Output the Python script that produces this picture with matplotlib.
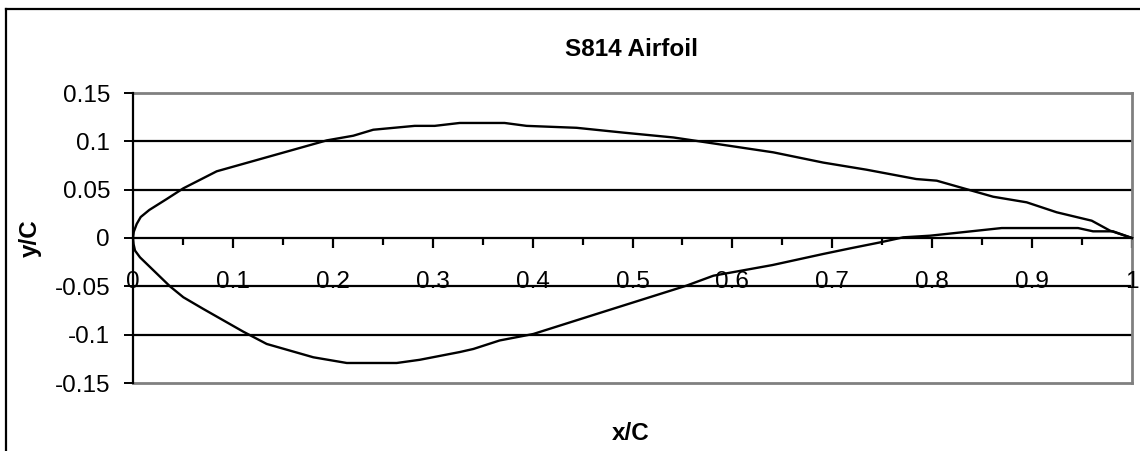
import matplotlib
matplotlib.use("Agg")
import matplotlib.pyplot as plt
from matplotlib.lines import Line2D

plt.rcParams['font.family'] = ['Liberation Sans', 'DejaVu Sans']

# S814 section coordinates, leading edge to trailing edge
upper_x = [0.0, 0.0008, 0.0037, 0.0077, 0.0163, 0.0337, 0.0504, 0.0838, 0.194, 0.2205,
           0.2405, 0.282, 0.302, 0.327, 0.372, 0.394, 0.444, 0.491, 0.541,
           0.641, 0.691, 0.734, 0.784, 0.8045, 0.861, 0.8946, 0.9246, 0.9597,
           0.978, 1.0]
upper_y = [0.0, 0.0065, 0.0145, 0.0217, 0.029, 0.0403, 0.0514, 0.069, 0.101, 0.1058,
           0.112, 0.116, 0.116, 0.119, 0.119, 0.116, 0.114, 0.109, 0.104,
           0.0886, 0.078, 0.0707, 0.061, 0.0593, 0.0427, 0.0369, 0.0266, 0.0179,
           0.0076, 0.0]

lower_x = [0.0, 0.0006, 0.002, 0.007, 0.037, 0.0504, 0.0704, 0.1104, 0.1338, 0.1805,
           0.214, 0.264, 0.287, 0.327, 0.3407, 0.367, 0.4007, 0.464, 0.554,
           0.581, 0.64, 0.691, 0.718, 0.748, 0.771, 0.798, 0.8696, 0.946,
           0.961, 0.981, 1.0]
lower_y = [0.0, -0.0065, -0.013, -0.020, -0.050, -0.0613, -0.0734, -0.0969, -0.1096, -0.1234,
           -0.1293, -0.1293, -0.126, -0.118, -0.1148, -0.106, -0.0993, -0.0786, -0.0493,
           -0.039, -0.028, -0.0165, -0.0107, -0.0045, 0.0007, 0.0024, 0.0103, 0.0103,
           0.0069, 0.0069, 0.0]

x_ticks = [0, 0.1, 0.2, 0.3, 0.4, 0.5, 0.6, 0.7, 0.8, 0.9, 1]
x_tick_labels = ["0", "0.1", "0.2", "0.3", "0.4", "0.5", "0.6", "0.7", "0.8", "0.9", "1"]
y_ticks = [-0.15, -0.1, -0.05, 0, 0.05, 0.1, 0.15]
y_tick_labels = ["-0.15", "-0.1", "-0.05", "0", "0.05", "0.1", "0.15"]

W, H = 1140, 451
FS = 17.5
fig = plt.figure(figsize=(W / 100, H / 100), dpi=100)
fig.patch.set_facecolor("white")

# chart frame (only left and top edges fall inside the canvas)
fig.add_artist(Line2D([6 / W, 6 / W], [0, 1 - 9 / H], color="black", lw=1.6,
                      transform=fig.transFigure))
fig.add_artist(Line2D([6 / W, 1], [1 - 9 / H, 1 - 9 / H], color="black", lw=1.6,
                      transform=fig.transFigure))

ax = fig.add_axes([133 / W, 1 - 383 / H, (1132 - 133) / W, (383 - 93) / H])
ax.set_xlim(0, 1)
ax.set_ylim(-0.15, 0.15)

# horizontal grid
for yv in [-0.1, -0.05, 0.05, 0.1]:
    ax.axhline(yv, color="black", lw=1.6, zorder=1)

# plot-area border
for side in ("top", "right", "bottom"):
    ax.spines[side].set_color("#808080")
    ax.spines[side].set_linewidth(2)
ax.spines["left"].set_color("black")
ax.spines["left"].set_linewidth(1.6)
ax.spines["left"].set_zorder(3)

# x axis drawn along y = 0 with its own ticks
ax.axhline(0, color="black", lw=1.6, zorder=2)
for i in range(1, 21):
    xv = i * 0.05
    ln = 0.0102 if i % 2 == 0 else 0.0072
    ax.plot([xv, xv], [0, -ln], color="black", lw=1.6, zorder=2,
            solid_capstyle="butt")
for xv, lab in zip(x_ticks, x_tick_labels):
    ax.text(xv, -0.046, lab, ha="center", va="center", fontsize=FS, zorder=4)

ax.set_xticks([])
ax.set_yticks(y_ticks)
ax.set_yticklabels(y_tick_labels, fontsize=FS)
ax.tick_params(axis="y", direction="out", length=6.5, width=1.4, pad=10, color="black")

ax.plot(upper_x, upper_y, color="black", lw=1.7, zorder=5, clip_on=False)
ax.plot(lower_x, lower_y, color="black", lw=1.7, zorder=5, clip_on=False)

fig.text(632 / W, 1 - 50 / H, "S814 Airfoil", ha="center", va="center",
         fontsize=FS, fontweight="bold")
fig.text(30 / W, 1 - 238 / H, "y/C", ha="center", va="center", rotation=90,
         fontsize=FS, fontweight="bold")
fig.text(631 / W, 1 - 434 / H, "x/C", ha="center", va="center",
         fontsize=FS, fontweight="bold")

fig.savefig("out.png", dpi=100, facecolor="white")
